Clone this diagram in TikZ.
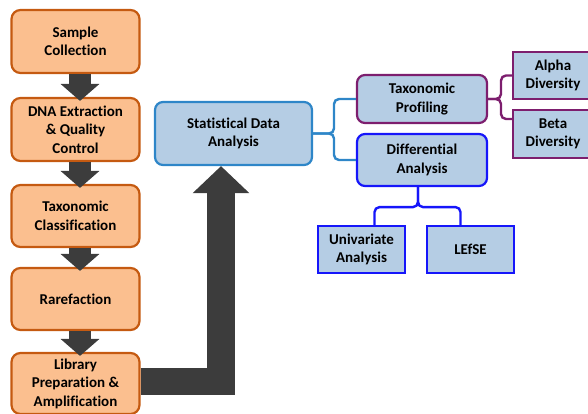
\documentclass[tikz,border=0pt]{standalone}
\usepackage{fontspec}
\setmainfont{Carlito}[Ligatures=NoCommon]
\usetikzlibrary{arrows.meta}

\definecolor{stagefill}{RGB}{251,191,143}
\definecolor{stageline}{RGB}{197,90,17}
\definecolor{statfill}{RGB}{181,205,228}
\definecolor{statline}{RGB}{46,134,200}
\definecolor{profline}{RGB}{125,30,110}
\definecolor{diffline}{RGB}{22,22,250}
\definecolor{arrowgray}{RGB}{60,60,60}

\begin{document}
\begin{tikzpicture}[x=1pt,y=-1pt,
  boxtext/.style={align=center,inner sep=0pt,font=\bfseries\fontsize{15}{18.5}\selectfont},
  stage/.style={boxtext,draw=stageline,fill=stagefill,line width=2.2pt,rounded corners=9pt,minimum width=128pt},
  result/.style={boxtext,fill=statfill,line width=2.2pt},
  flowarrow/.style={draw=arrowgray,line width=22pt,-{Triangle[width=38pt,length=17pt]}},
  brace/.style={line width=2.4pt,rounded corners=5pt}]
\useasboundingbox (0,0) rectangle (588,414);

%pipeline
\node[stage,minimum height=63pt] (sample) at (75.5,41.5) {Sample\\Collection};
\node[stage,minimum height=63pt] (dna) at (75.5,129.5) {DNA Extraction\\\& Quality\\Control};
\node[stage,minimum height=62pt] (taxclass) at (75.5,216) {Taxonomic\\Classification};
\node[stage,minimum height=62pt] (rare) at (75.5,299) {Rarefaction};
\node[stage,minimum height=61pt] (lib) at (75.5,383.5) {Library\\Preparation \&\\Amplification};

%analysis
\node[result,draw=statline,rounded corners=8pt,minimum width=157pt,minimum height=63pt] (stat) at (233.5,133.5) {Statistical Data\\Analysis};
\node[result,draw=profline,rounded corners=8pt,minimum width=130pt,minimum height=48pt] (prof) at (422,99) {Taxonomic\\Profiling};
\node[result,draw=diffline,rounded corners=8pt,minimum width=130pt,minimum height=52pt] (diff) at (422,160) {Differential\\Analysis};
\node[result,draw=profline,minimum width=80pt,minimum height=47pt] (alpha) at (553,75.5) {Alpha\\Diversity};
\node[result,draw=profline,minimum width=80pt,minimum height=48pt] (beta) at (553,134) {Beta\\Diversity};
\node[result,draw=diffline,minimum width=87pt,minimum height=47pt] (univ) at (361.5,249.5) {Univariate\\Analysis};
\node[result,draw=diffline,minimum width=87pt,minimum height=47pt] (lefse) at (470.5,249.5) {LEfSE};

%arrows
\draw[flowarrow] ([xshift=4.5pt]sample.south) -- ([xshift=4.5pt,yshift=-4pt]dna.north);
\draw[flowarrow] ([xshift=4.5pt]dna.south) -- ([xshift=4.5pt,yshift=-4pt]taxclass.north);
\draw[flowarrow] ([xshift=4.5pt]taxclass.south) -- ([xshift=4.5pt,yshift=-4pt]rare.north);
\draw[flowarrow] ([xshift=4.5pt]rare.south) -- ([xshift=4.5pt,yshift=-4pt]lib.north);
\coordinate (bend) at (221,381.5);
\draw[draw=arrowgray,line width=27.5pt,-{Triangle[width=55pt,length=27pt]}] (lib.east |- bend) -- (bend) -- (stat.south -| bend);

%braces
\draw[brace,statline] (stat.east) -| (334,120) |- (prof.west);
\draw[brace,statline] (stat.east) -| (334,150) |- (diff.west);
\draw[brace,profline] (prof.east) -| (501,90) |- (alpha.west);
\draw[brace,profline] (prof.east) -| (501,110) |- ([yshift=15pt]beta.west);
\draw[brace,diffline] ([xshift=-4pt]diff.south) -- ++(0,20) -| ([xshift=13pt]univ.north);
\draw[brace,diffline] ([xshift=-4pt]diff.south) -- ++(0,20) -| ([xshift=-10pt]lefse.north);
\end{tikzpicture}
\end{document}
